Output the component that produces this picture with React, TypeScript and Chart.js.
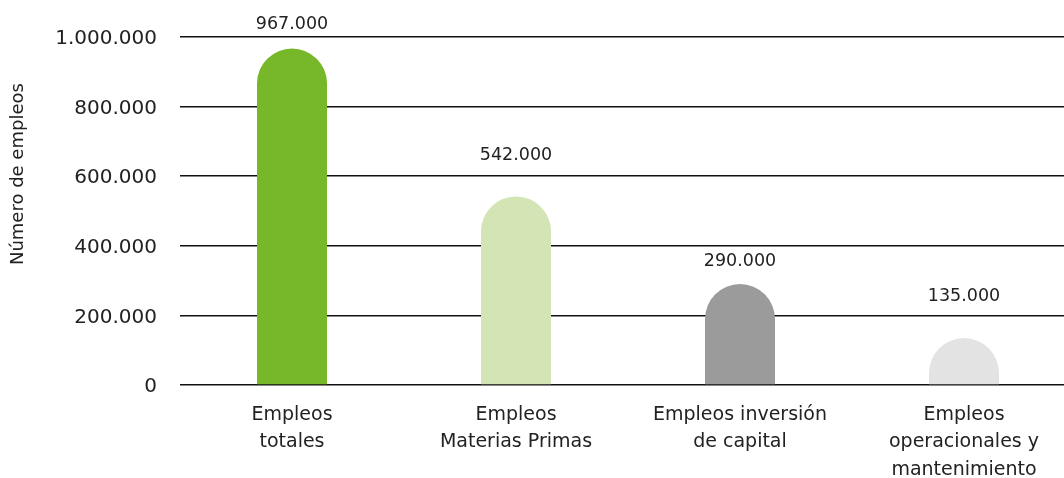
import React, { useEffect, useRef } from "react";
import { Chart, registerables } from "chart.js";

Chart.register(...registerables);

// Employment categories and headcounts
const categories: string[][] = [
  ["Empleos", "totales"],
  ["Empleos", "Materias Primas"],
  ["Empleos inversión", "de capital"],
  ["Empleos", "operacionales y", "mantenimiento"],
];
const employees: number[] = [967000, 542000, 290000, 135000];
const barColors: string[] = ["#76b82a", "#d3e4b5", "#9b9b9b", "#e3e3e3"];
const yTicks: number[] = [0, 200000, 400000, 600000, 800000, 1000000];

// Vertical gap (px) between each bar top and its value label
const labelGaps: number[] = [24, 41, 23, 42];

const FONT = "'DejaVu Sans', sans-serif";
const TEXT = "#222222";

const fmt = (v: number) =>
  Math.round(v)
    .toString()
    .replace(/\B(?=(\d{3})+(?!\d))/g, ".");

// Bars with a fully rounded (semicircular) top, drawn from the bar elements' geometry
const roundedBars = {
  id: "roundedBars",
  beforeDatasetDraw(chart: any, args: any) {
    const ctx = chart.ctx;
    const meta = args.meta;
    ctx.save();
    meta.data.forEach((bar: any, i: number) => {
      const { x, y, base, width } = bar.getProps(["x", "y", "base", "width"], true);
      const left = x - width / 2;
      const right = x + width / 2;
      const r = Math.min(width / 2, base - y);
      ctx.beginPath();
      ctx.moveTo(left, base);
      ctx.lineTo(left, y + r);
      ctx.arc(x, y + r, r, Math.PI, 0, false);
      ctx.lineTo(right, base);
      ctx.closePath();
      ctx.fillStyle = barColors[i];
      ctx.fill();
    });
    ctx.restore();
    return false;
  },
};

const valueLabels = {
  id: "valueLabels",
  afterDatasetsDraw(chart: any) {
    const ctx = chart.ctx;
    const meta = chart.getDatasetMeta(0);
    ctx.save();
    ctx.font = `17.5px ${FONT}`;
    ctx.fillStyle = TEXT;
    ctx.textAlign = "center";
    ctx.textBaseline = "middle";
    meta.data.forEach((bar: any, i: number) => {
      ctx.fillText(fmt(employees[i]), bar.x, bar.y - labelGaps[i]);
    });
    ctx.restore();
  },
};

const yTitle = {
  id: "yTitle",
  afterDraw(chart: any) {
    const ctx = chart.ctx;
    const area = chart.chartArea;
    ctx.save();
    ctx.font = `18px ${FONT}`;
    ctx.fillStyle = TEXT;
    ctx.textAlign = "center";
    ctx.textBaseline = "middle";
    ctx.translate(18, area.top + (area.bottom - area.top) * 0.394);
    ctx.rotate(-Math.PI / 2);
    ctx.fillText("Número de empleos", 0, 0);
    ctx.restore();
  },
};

export default function App() {
  const canvasRef = useRef<HTMLCanvasElement | null>(null);

  useEffect(() => {
    if (!canvasRef.current) return;
    const chart = new Chart(canvasRef.current, {
      type: "bar",
      data: {
        labels: categories,
        datasets: [
          {
            data: employees,
            backgroundColor: barColors,
            barPercentage: 0.3125,
            categoryPercentage: 1,
          },
        ],
      },
      options: {
        animation: false,
        responsive: false,
        maintainAspectRatio: false,
        layout: { padding: { top: 37, right: 0, bottom: 0, left: 0 } },
        plugins: {
          legend: { display: false },
          tooltip: { enabled: false },
        },
        scales: {
          x: {
            grid: { display: false, drawTicks: false },
            border: { display: false },
            ticks: {
              color: TEXT,
              font: { family: FONT, size: 19, lineHeight: 1.45 },
              padding: 16,
              maxRotation: 0,
              autoSkip: false,
            },
            afterFit(scale: any) {
              scale.height = 93;
            },
          },
          y: {
            min: 0,
            max: 1000000,
            afterBuildTicks(scale: any) {
              scale.ticks = yTicks.map((v) => ({ value: v }));
            },
            grid: {
              color: "#111111",
              lineWidth: 1.6,
              drawTicks: false,
            },
            border: { display: false },
            ticks: {
              color: TEXT,
              font: { family: FONT, size: 20 },
              padding: 23,
              labelOffset: 2,
              callback: (v: any) => fmt(Number(v)),
            },
            afterFit(scale: any) {
              scale.width = 180;
            },
          },
        },
      },
      plugins: [roundedBars, valueLabels, yTitle],
    });
    return () => chart.destroy();
  }, []);

  return (
    <div
      style={{
        position: "fixed",
        left: 0,
        top: 0,
        width: 1064,
        height: 478,
        overflow: "hidden",
        background: "#ffffff",
      }}
    >
      <canvas ref={canvasRef} width={1076} height={478} style={{ display: "block" }} />
    </div>
  );
}
